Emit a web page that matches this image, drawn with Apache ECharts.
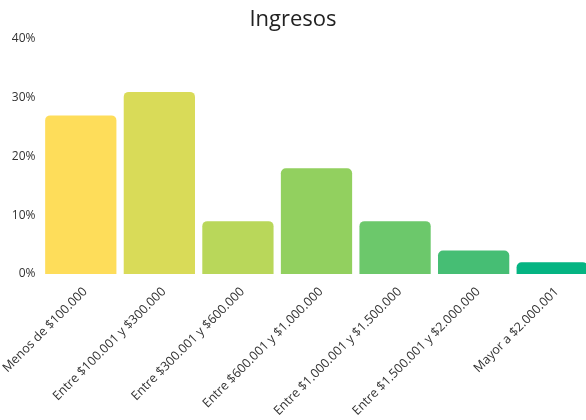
<!DOCTYPE html>
<html>
<head>
<meta charset="utf-8">
<script src="https://cdn.jsdelivr.net/npm/echarts@6/dist/echarts.min.js"></script>
<style>
  html, body { margin: 0; padding: 0; background: #fff; }
  #chart { width: 586px; height: 420px; }
</style>
</head>
<body>
<div id="chart"></div>
<script>
const categorias = [
  "Menos de $100.000",
  "Entre $100.001 y $300.000",
  "Entre $300.001 y $600.000",
  "Entre $600.001 y $1.000.000",
  "Entre $1.000.001 y $1.500.000",
  "Entre $1.500.001 y $2.000.000",
  "Mayor a $2.000.001"
];
const porcentajes = [27, 31, 9, 18, 9, 4, 2];
const colores = ["#fedd5a", "#d9db58", "#b9d75a", "#92d05f", "#6cc86b", "#46be74", "#05b482"];

let chart = echarts.init(document.getElementById("chart"));
chart.setOption({
  backgroundColor: "#fff",
  animation: false,
  textStyle: {fontFamily: "Open Sans"},
  title: {
    text: "Ingresos",
    left: "center",
    top: 4,
    textStyle: {fontFamily: "Open Sans", fontSize: 22, fontWeight: "normal", color: "#222"}
  },
  grid: {left: 41.5, right: -5.5, top: 39, bottom: 146, outerBoundsMode: "none", containLabel: false},
  xAxis: {
    type: "category",
    data: categorias,
    axisLine: {show: false},
    axisTick: {show: false},
    axisLabel: {rotate: 45, interval: 0, fontSize: 12.5, color: "#333", margin: 11, verticalAlign: "top"}
  },
  yAxis: {
    type: "value",
    min: 0,
    max: 40,
    interval: 10,
    splitLine: {show: false},
    axisLabel: {formatter: v => v + "%", fontSize: 12, color: "#333", margin: 6}
  },
  series: [{
    type: "bar",
    data: porcentajes.map((v, i) => ({value: v, itemStyle: {color: colores[i]}})),
    barCategoryGap: "9.3%",
    itemStyle: {borderRadius: [5, 5, 0, 0]}
  }]
});
</script>
</body>
</html>
